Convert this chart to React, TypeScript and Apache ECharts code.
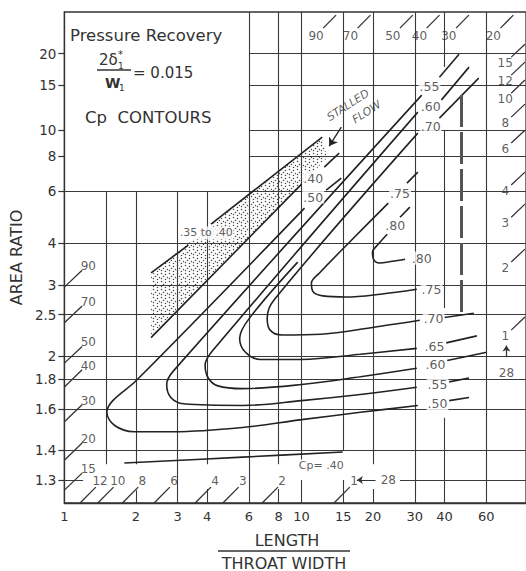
import { useEffect, useRef } from "react";
import * as echarts from "echarts";

// ---------- axes ----------
const X_TICKS = [1, 2, 3, 4, 6, 8, 10, 15, 20, 30, 40, 60];
const AR_TICKS = [1.3, 1.4, 1.6, 1.8, 2, 2.5, 3, 4, 6, 8, 10, 15, 20];
const LW_RANGE = [1, 88.3];
const AR_RANGE = [1.24, 29.5];

// ---------- drawn grid: vertical [L/W, AR from, AR to], horizontal [AR, L/W from, L/W to] ----------
const V_GRID = [
  [1.5, 1.35, 6], [2, 1.35, 6], [2, 1.24, 1.272], [3, 1.24, 6], [4, 1.35, 6], [4, 1.24, 1.275],
  [6, 1.24, 29.5], [8, 1.35, 29.5], [8, 1.24, 1.275], [10, 1.365, 29.5], [10, 1.24, 1.3],
  [15, 1.4, 29.5], [15, 1.24, 1.3], [20, 1.35, 29.5], [20, 1.24, 1.275], [30, 1.24, 29.5],
  [40, 1.24, 1.55], [40, 2.6, 10], [40, 17.7, 29.5], [60, 1.24, 29.5],
];
const H_GRID = [
  [1.3, 1, 1.2], [1.3, 26, 88.3], [1.4, 1, 88.3], [1.6, 1, 88.3], [1.8, 1, 88.3], [2, 1, 88.3],
  [2.5, 1, 88.3], [3, 1, 88.3], [4, 1, 88.3], [6, 1, 88.3], [8, 6, 88.3], [10, 6, 88.3],
  [15, 6, 88.3], [20, 6, 88.3],
];

// ---------- Cp contours [L/W, AR] ----------
const CP40_LOWER = [[1.79, 1.354], [5.64, 1.375], [14.9, 1.394]];
const CP40_UPPER = [[2.32, 2.2], [10.0, 6.34]];
const CP50 = [[10.29, 5.23], [2.01, 1.79], [1.6, 1.65], [1.51, 1.58], [1.63, 1.51], [1.97, 1.48], [2.89, 1.48], [5.64, 1.5], [10, 1.54], [17.7, 1.58], [30.9, 1.62]];
const CP55 = [[32.1, 13.69], [2.89, 1.87], [2.7, 1.76], [2.81, 1.67], [3.18, 1.63], [5.64, 1.62], [10, 1.65], [17.7, 1.69], [30.6, 1.74]];
const CP60 = [[30.9, 11.76], [4.23, 2.06], [3.92, 1.92], [4.04, 1.81], [4.44, 1.75], [5.64, 1.73], [10, 1.76], [17.7, 1.82], [30.6, 1.89]];
const CP65 = [[9.63, 3.5], [6.03, 2.45], [5.48, 2.19], [5.8, 2.04], [6.7, 1.97], [10, 1.97], [17.7, 2.02], [30.6, 2.08]];
const CP70 = [[30.9, 9.77], [7.65, 2.73], [7.16, 2.45], [7.37, 2.29], [8.26, 2.23], [12.1, 2.24], [21.5, 2.34], [31.5, 2.42]];
const CP75 = [[23.2, 5.44], [16.1, 4.07], [11.9, 3.25], [11.0, 3.04], [11.2, 2.87], [12.3, 2.8], [15.4, 2.78], [21.5, 2.83], [30.6, 2.92]];
const CP80 = [[22.96, 4.28], [21.07, 3.98], [19.9, 3.75], [20.1, 3.57], [21.3, 3.48], [24.1, 3.52], [27.3, 3.57]];
// short pieces of the contours beyond their labels
const CONTOUR_TAILS = [
  [[12.46, 7.3], [14.4, 8.22]], [[12.7, 6.04], [14.7, 6.66]], [[41.9, 1.65], [50.8, 1.67]],
  [[38.1, 16.1], [46.1, 19.9]], [[41.9, 1.78], [50.8, 1.81]], [[38.8, 13.09], [50.8, 17.67]],
  [[41.1, 1.96], [60.3, 2.04]], [[40.7, 2.14], [54.8, 2.22]], [[38.1, 11.15], [55.8, 15.97]],
  [[40.0, 2.46], [53.2, 2.52]], [[27.8, 6.39], [30.9, 7.0]], [[26.0, 4.87], [28.6, 5.27]],
];
const CONTOUR_LABELS: [string, number, number][] = [
  [".80", 32.1, 3.6], [".75", 35.3, 2.92], [".70", 36.0, 2.45], [".65", 36.3, 2.1], [".60", 36.7, 1.92],
  [".55", 37.4, 1.76], [".50", 37.4, 1.63], [".80", 24.8, 4.58], [".75", 26.0, 5.89], [".70", 35.0, 10.4],
  [".60", 35.0, 12.4], [".55", 34.6, 14.85], [".50", 11.2, 5.71], [".40", 11.2, 6.66],
];
const CP_NOTE: [string, number, number][] = [["Cp= .40", 12.1, 1.347]];

// ---------- stalled-flow band ----------
const STALL_REGION = [[2.32, 3.25], [12.22, 9.44], [12.8, 7.88], [10.0, 6.34], [2.32, 2.2]];
const STALL_EDGES = [[[2.32, 3.25], [3.33, 3.95]], [[4.15, 4.62], [12.22, 9.44]]];
const STALL_LABEL: [string, number, number][] = [[".35 to .40", 3.96, 4.32]];
const STALL_TEXT: [string, number, number][] = [["STALLED", 15.7, 12.51], ["FLOW", 18.8, 11.76]];
const STALL_ARROW = [[14.7, 10.29], [13.07, 8.73]];

// ---------- divergence-angle marks round the border: [label, [L/W, AR] start, [L/W, AR] end] ----------
type Mark = [string, number[], number[]];
const LEFT_ANGLES: Mark[] = [
  ["90", [1, 2.96], [1.188, 3.31]], ["70", [1, 2.385], [1.188, 2.63]], ["50", [1, 1.936], [1.188, 2.1]],
  ["40", [1, 1.742], [1.188, 1.877]], ["30", [1, 1.529], [1.188, 1.624]], ["20", [1, 1.364], [1.188, 1.43]],
  ["15", [1, 1.272], [1.188, 1.321]],
];
const BOTTOM_ANGLES: Mark[] = [
  ["12", [1.165, 1.24], [1.357, 1.28]], ["10", [1.384, 1.24], [1.612, 1.28]], ["8", [1.757, 1.24], [2.047, 1.28]],
  ["6", [2.39, 1.24], [2.784, 1.28]], ["4", [3.56, 1.24], [4.147, 1.28]], ["3", [4.66, 1.24], [5.43, 1.28]],
  ["2", [6.82, 1.24], [7.95, 1.28]], ["1", [13.7, 1.24], [15.96, 1.28]],
];
const TOP_ANGLES: Mark[] = [
  ["90", [13.97, 28.64], [12.33, 25.36]], ["70", [19.51, 28.64], [17.23, 25.36]], ["50", [29.42, 28.64], [25.98, 25.36]],
  ["40", [38.13, 28.64], [33.68, 25.36]], ["30", [50.71, 28.64], [44.78, 25.36]], ["20", [78.05, 28.64], [68.93, 25.36]],
];
const RIGHT_ANGLES: Mark[] = [
  ["15", [76.5, 19.37], [87.4, 21.84]], ["12", [76.5, 16.42], [87.4, 18.5]], ["10", [76.5, 13.94], [87.4, 15.7]],
  ["8", [76.5, 11.25], [87.4, 12.63]], ["6", [76.5, 8.96], [87.4, 10.02]], ["4", [76.5, 6.29], [87.4, 7.0]],
  ["3", [76.5, 4.87], [87.4, 5.395]], ["2", [76.5, 3.505], [87.4, 3.838]], ["1", [76.5, 2.29], [87.4, 2.465]],
];
const ARROWS_28 = [[[20.5, 1.3], [17.1, 1.3]], [[73.0, 1.99], [73.0, 2.11]]];
const LABELS_28: [string, number, number][] = [["28", 23.2, 1.3], ["28", 73.0, 1.85]];
const DASHED_LINE = [[47.2, 13.7], [47.2, 2.54]];

const lx = (v: number) => Math.log10(v);
const la = (a: number) => Math.log10(a - 1);
const pt = (p: number[]) => [lx(p[0]), la(p[1])];
const FONT = "DejaVu Sans";
const INK = "#333";

function nearest(ticks: number[], f: (t: number) => number, v: number) {
  let best = 0;
  ticks.forEach((t, i) => {
    if (Math.abs(f(t) - v) < Math.abs(f(ticks[best]) - v)) best = i;
  });
  return String(ticks[best]);
}

function makeStipple() {
  const c = document.createElement("canvas");
  c.width = 8;
  c.height = 8;
  const g = c.getContext("2d")!;
  g.fillStyle = "#444";
  const dots = [[1, 1], [5, 2], [7, 5], [3, 4], [5, 7], [1, 6]];
  for (const [x, y] of dots) {
    g.beginPath();
    g.arc(x + 0.5, y + 0.5, 0.75, 0, Math.PI * 2);
    g.fill();
  }
  return c;
}

const labelSeries = (items: [string, number, number][], label: any, z = 6) => ({
  type: "scatter",
  silent: true,
  clip: false,
  z,
  symbolSize: 1,
  itemStyle: { color: "rgba(0,0,0,0)" },
  data: items.map(([t, x, a]) => ({ name: t, value: pt([x, a]) })),
  label: { show: true, position: "inside", formatter: "{b}", color: INK, fontFamily: FONT, ...label },
});

const segSeries = (segs: number[][][], lineStyle: any, extra: any = {}) => ({
  type: "lines",
  coordinateSystem: "cartesian2d",
  silent: true,
  z: 3,
  lineStyle: { opacity: 1, curveness: 0, ...lineStyle },
  data: segs.map((s) => ({ coords: s.map(pt) })),
  ...extra,
});

const contourSeries = (d: number[][]) => ({
  type: "line",
  silent: true,
  z: 3,
  smooth: 0.35,
  symbol: "none",
  lineStyle: { color: "#222", width: 1.6 },
  data: d.map(pt),
});

const markSeries = (marks: Mark[], offset: number[]) => [
  segSeries(marks.map(([, a, b]) => [a, b]), { color: INK, width: 1.3 }, { z: 7 }),
  labelSeries(marks.map(([t, a]) => [t, a[0], a[1]] as [string, number, number]), { fontSize: 12, offset }),
];

export default function App() {
  const ref = useRef<HTMLDivElement>(null);
  useEffect(() => {
    if (!ref.current) return;
    const chart = echarts.init(ref.current, null, { renderer: "svg" });
    const stipple = makeStipple();
    const gridSegs = [
      ...V_GRID.map(([x, a1, a2]) => [[x, a1], [x, a2]]),
      ...H_GRID.map(([a, x1, x2]) => [[x1, a], [x2, a]]),
    ];
    chart.setOption({
      animation: false,
      backgroundColor: "#fff",
      grid: { left: 59, right: -2, top: 12, bottom: 68, show: true, borderColor: INK, borderWidth: 1.3 },
      xAxis: {
        type: "value",
        min: lx(LW_RANGE[0]),
        max: lx(LW_RANGE[1]),
        axisLine: { show: true, onZero: false, lineStyle: { color: INK, width: 1.3 } },
        axisTick: { show: false },
        splitLine: { show: false },
        axisLabel: {
          customValues: X_TICKS.map(lx),
          formatter: (v: number) => nearest(X_TICKS, lx, v),
          color: INK,
          fontSize: 13,
          fontFamily: FONT,
          margin: 7,
        },
      },
      yAxis: {
        type: "value",
        min: la(AR_RANGE[0]),
        max: la(AR_RANGE[1]),
        name: "AREA RATIO",
        nameLocation: "middle",
        nameRotate: 90,
        nameGap: 27,
        nameTextStyle: { color: INK, fontSize: 16, fontFamily: FONT },
        axisLine: { show: true, onZero: false, lineStyle: { color: INK, width: 1.3 } },
        axisTick: { show: true, length: 6, customValues: AR_TICKS.map(la), lineStyle: { color: INK, width: 1.2 } },
        splitLine: { show: false },
        axisLabel: {
          customValues: AR_TICKS.map(la),
          formatter: (v: number) => nearest(AR_TICKS, la, v),
          color: INK,
          fontSize: 13.5,
          fontFamily: FONT,
          margin: 8,
        },
      },
      series: [
        segSeries(gridSegs, { color: "#3a3a3a", width: 1.1 }, { z: 1 }),
        {
          type: "custom",
          coordinateSystem: "cartesian2d",
          silent: true,
          clip: false,
          z: 2,
          data: [[0, 0]],
          renderItem: (_p: any, api: any) => ({
            type: "polygon",
            shape: { points: STALL_REGION.map((p) => api.coord(pt(p))) },
            style: { fill: { image: stipple, repeat: "repeat" }, stroke: "none" },
          }),
        },
        ...[CP40_LOWER, CP40_UPPER, CP50, CP55, CP60, CP65, CP70, CP75, CP80].map(contourSeries),
        segSeries(CONTOUR_TAILS, { color: "#222", width: 1.6 }),
        segSeries(STALL_EDGES, { color: "#222", width: 1.6 }),
        segSeries([DASHED_LINE], { color: "#555", width: 3, type: [32, 5] }),
        segSeries(ARROWS_28, { color: INK, width: 1.2 }, { symbol: ["none", "arrow"], symbolSize: 6 }),
        segSeries([STALL_ARROW], { color: "#222", width: 1.3 }, { symbol: ["none", "arrow"], symbolSize: 8 }),
        ...markSeries(LEFT_ANGLES, [24, -21]),
        ...markSeries(BOTTOM_ANGLES, [20, -22]),
        ...markSeries(TOP_ANGLES, [-20, 21]),
        ...markSeries(RIGHT_ANGLES, [-6, 6]),
        labelSeries(CONTOUR_LABELS, { fontSize: 12.5, backgroundColor: "#fff", padding: [0, 1] }),
        labelSeries(CP_NOTE, { fontSize: 11, backgroundColor: "#fff", padding: [0, 1] }),
        labelSeries(STALL_LABEL, { fontSize: 11, backgroundColor: "#fff", padding: [1, 1] }),
        labelSeries(LABELS_28, { fontSize: 12, backgroundColor: "#fff", padding: [0, 2] }),
        labelSeries(STALL_TEXT, { fontSize: 11, fontStyle: "italic", rotate: 33 }),
      ],
      graphic: [
        { type: "text", x: 70, y: 35, style: { text: "Pressure Recovery", fill: INK, font: `16.5px "${FONT}"`, textVerticalAlign: "middle" } },
        { type: "text", x: 99, y: 60, style: { text: "2δ", fill: INK, font: `15px "${FONT}"`, textVerticalAlign: "middle" } },
        { type: "text", x: 118, y: 54, style: { text: "*", fill: INK, font: `10px "${FONT}"`, textVerticalAlign: "middle" } },
        { type: "text", x: 118, y: 66, style: { text: "1", fill: INK, font: `9px "${FONT}"`, textVerticalAlign: "middle" } },
        { type: "line", shape: { x1: 97, y1: 70, x2: 131, y2: 70 }, style: { stroke: INK, lineWidth: 1.3 } },
        { type: "text", x: 105, y: 83, style: { text: "W", fill: INK, font: `bold 14px "${FONT}"`, textVerticalAlign: "middle" } },
        { type: "text", x: 119, y: 88, style: { text: "1", fill: INK, font: `9px "${FONT}"`, textVerticalAlign: "middle" } },
        { type: "text", x: 133, y: 73, style: { text: "= 0.015", fill: INK, font: `15px "${FONT}"`, textVerticalAlign: "middle" } },
        { type: "text", x: 85, y: 117, style: { text: "Cp  CONTOURS", fill: INK, font: `16.5px "${FONT}"`, textVerticalAlign: "middle" } },
        { type: "text", x: 287, y: 540, style: { text: "LENGTH", fill: INK, font: `16px "${FONT}"`, textAlign: "center", textVerticalAlign: "middle" } },
        { type: "line", shape: { x1: 218, y1: 551, x2: 350, y2: 551 }, style: { stroke: INK, lineWidth: 1.3 } },
        { type: "text", x: 284, y: 563, style: { text: "THROAT WIDTH", fill: INK, font: `16px "${FONT}"`, textAlign: "center", textVerticalAlign: "middle" } },
      ],
    });
    return () => chart.dispose();
  }, []);
  return <div ref={ref} style={{ position: "fixed", left: 0, top: 0, width: 526, height: 571, background: "#fff" }} />;
}
